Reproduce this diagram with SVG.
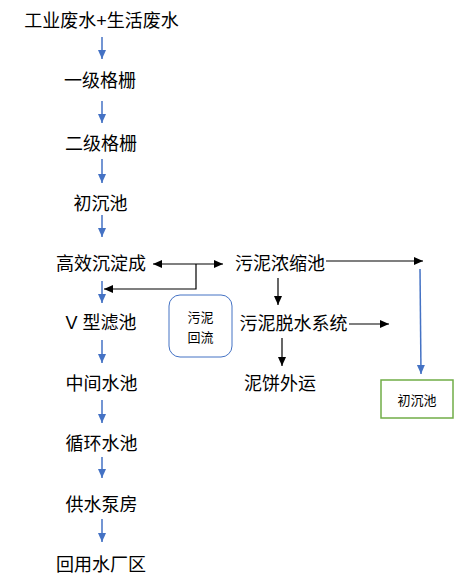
<svg xmlns="http://www.w3.org/2000/svg" width="475" height="588" viewBox="0 0 475 588">
<style>
.t{font-family:"Liberation Sans","Noto Sans CJK SC",sans-serif;font-size:18px;fill:#000}
.s{font-family:"Noto Sans CJK SC",sans-serif;font-size:13px;fill:#000}
.b{stroke:#4472C4;stroke-width:1.5;fill:none}
.k{stroke:#000;stroke-width:1.2;fill:none}
</style>
<defs>
<marker id="ab" markerUnits="userSpaceOnUse" markerWidth="10" markerHeight="10" refX="9" refY="5" orient="auto"><path d="M0,1 L9,5 L0,9 Z" fill="#4472C4"/></marker>
<marker id="ak" markerUnits="userSpaceOnUse" markerWidth="10" markerHeight="10" refX="9" refY="5" orient="auto"><path d="M0,1 L9,5 L0,9 Z" fill="#000"/></marker>
<marker id="aks" markerUnits="userSpaceOnUse" markerWidth="10" markerHeight="10" refX="1" refY="5" orient="auto"><path d="M10,1 L1,5 L10,9 Z" fill="#000"/></marker>
</defs>
<rect width="475" height="588" fill="#fff"/>
<g id="connectors">
<line class="b" x1="102" y1="37" x2="102" y2="59" marker-end="url(#ab)"/>
<line class="b" x1="102" y1="101" x2="102" y2="123" marker-end="url(#ab)"/>
<line class="b" x1="102" y1="159" x2="102" y2="183" marker-end="url(#ab)"/>
<line class="b" x1="102" y1="215" x2="102" y2="237" marker-end="url(#ab)"/>
<line class="b" x1="102" y1="281" x2="102" y2="303" marker-end="url(#ab)"/>
<line class="b" x1="102" y1="340" x2="102" y2="363" marker-end="url(#ab)"/>
<line class="b" x1="102" y1="400" x2="102" y2="423" marker-end="url(#ab)"/>
<line class="b" x1="102" y1="457" x2="102" y2="478" marker-end="url(#ab)"/>
<line class="b" x1="102" y1="519" x2="102" y2="542" marker-end="url(#ab)"/>
<line class="k" x1="153" y1="264" x2="223" y2="264" marker-start="url(#aks)" marker-end="url(#ak)"/>
<polyline class="k" points="196,264 196,289 104,289" marker-end="url(#ak)"/>
<line class="k" x1="326" y1="261" x2="423" y2="261" marker-end="url(#ak)"/>
<line class="k" x1="349" y1="324" x2="389" y2="324" marker-end="url(#ak)"/>
<line class="k" x1="278" y1="278" x2="278" y2="305" marker-end="url(#ak)"/>
<line class="k" x1="282" y1="338" x2="282" y2="366" marker-end="url(#ak)"/>
<line class="b" x1="420" y1="269" x2="421" y2="374" marker-end="url(#ab)"/>
</g>
<g id="n1"><text class="t" x="101.5" y="26.5" text-anchor="middle">工业废水+生活废水</text></g>
<g id="n2"><text class="t" x="100" y="86.5" text-anchor="middle">一级格栅</text></g>
<g id="n3"><text class="t" x="101" y="149.5" text-anchor="middle">二级格栅</text></g>
<g id="n4"><text class="t" x="100.5" y="209.5" text-anchor="middle">初沉池</text></g>
<g id="n5"><text class="t" x="101" y="269.5" text-anchor="middle">高效沉淀成</text></g>
<g id="n6"><text class="t" x="101" y="328.5" text-anchor="middle">V 型滤池</text></g>
<g id="n7"><text class="t" x="101.5" y="389.5" text-anchor="middle">中间水池</text></g>
<g id="n8"><text class="t" x="101.5" y="449.5" text-anchor="middle">循环水池</text></g>
<g id="n9"><text class="t" x="101.5" y="510.5" text-anchor="middle">供水泵房</text></g>
<g id="n10"><text class="t" x="101" y="570.5" text-anchor="middle">回用水厂区</text></g>
<g id="n11"><text class="t" x="280" y="269.5" text-anchor="middle">污泥浓缩池</text></g>
<g id="n12"><text class="t" x="293.5" y="329.5" text-anchor="middle">污泥脱水系统</text></g>
<g id="n13"><text class="t" x="280" y="389.5" text-anchor="middle">泥饼外运</text></g>
<g id="n14"><rect x="169" y="295" width="63" height="62" rx="11" ry="11" fill="#fff" stroke="#4472C4" stroke-width="1"/><text class="s" x="200.5" y="321.5" text-anchor="middle">污泥</text><text class="s" x="200.5" y="341.5" text-anchor="middle">回流</text></g>
<g id="n15"><rect x="381" y="380" width="72" height="38" fill="#fff" stroke="#70AD47" stroke-width="1.5"/><text class="s" x="417" y="404.5" text-anchor="middle">初沉池</text></g>
</svg>
